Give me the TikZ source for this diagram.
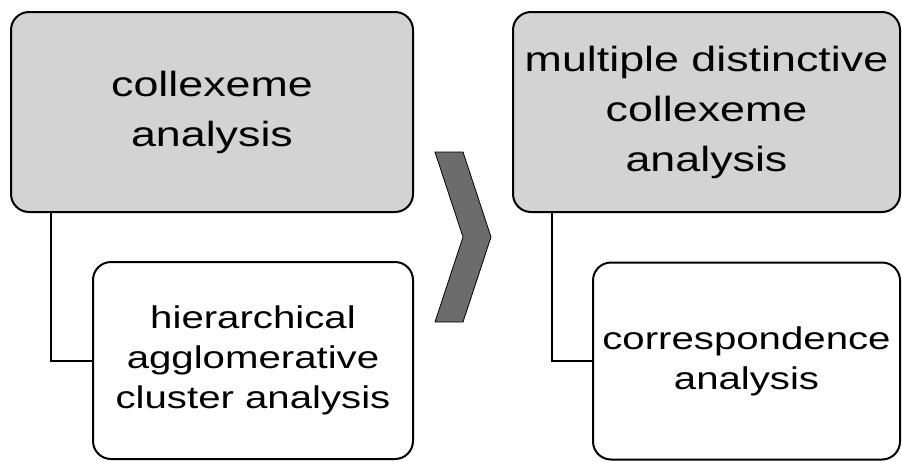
\documentclass[tikz,border=0pt]{standalone}
\usepackage{fontspec}
\newfontfamily\boxfont[FakeStretch=1.28]{Liberation Sans}
\usetikzlibrary{calc}
\definecolor{boxgray}{RGB}{211,211,211}
\definecolor{chevgray}{RGB}{108,108,108}
\tikzset{%
  mainbox/.style={draw=black, line width=2pt, rounded corners=18pt, fill=boxgray,
    minimum height=200pt, inner sep=0pt, align=center,
    font=\boxfont\fontsize{35}{50}\selectfont},
  subbox/.style={mainbox, fill=white, minimum height=197pt,
    font=\boxfont\fontsize{31.4}{40}\selectfont},
  myedge/.style={draw=black, line width=2pt}
}
\begin{document}
\begin{tikzpicture}[x=1pt,y=-1pt]
  \useasboundingbox (0,0) rectangle (902,461);
  \node[mainbox, minimum width=402pt] (ca) at (212,112) {collexeme\\analysis};
  \node[subbox, minimum width=320pt] (hac) at (253,360.5) {hierarchical\\agglomerative\\cluster analysis};
  \node[mainbox, minimum width=387pt] (mdca) at (706.5,112) {multiple distinctive\\collexeme\\analysis};
  \node[subbox, minimum width=307pt] (coa) at (746.5,361) {correspondence\\analysis};
  \draw [myedge] ($(ca.south west)+(41,0)$) |- (hac.west);
  \draw [myedge] ($(mdca.south west)+(40,0)$) |- (coa.west);
  % chevron between the two steps
  \draw [fill=chevgray, line width=0.8pt] (435,152) -- (463,152) -- (491,237)
    -- (463,322) -- (435,322) -- (463,237) -- cycle;
\end{tikzpicture}
\end{document}
